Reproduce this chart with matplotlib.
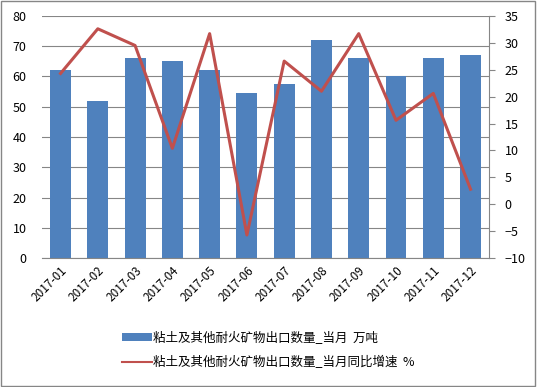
import matplotlib
matplotlib.use('Agg')
import matplotlib.pyplot as plt
from matplotlib.patches import Rectangle
from matplotlib.lines import Line2D

plt.rcParams['font.family'] = ['Noto Sans CJK SC', 'DejaVu Sans']

months = ['2017-01', '2017-02', '2017-03', '2017-04', '2017-05', '2017-06',
          '2017-07', '2017-08', '2017-09', '2017-10', '2017-11', '2017-12']
volume = [62, 52, 66, 65, 62, 54.5, 57.5, 72, 66, 60, 66, 67]
growth = [24.3, 32.6, 29.5, 10.4, 31.7, -5.7, 26.6, 21.0, 31.7, 15.6, 20.6, 2.8]

fig = plt.figure(figsize=(5.37, 3.87), dpi=100)
ax = fig.add_axes([0.078, 0.333, 0.833, 0.626])

x = list(range(len(months)))
bars = ax.bar(x, volume, width=0.56, color='#4F81BD', zorder=2,
              label='粘土及其他耐火矿物出口数量_当月  万吨')
ax.set_ylim(0, 80)
ax.set_yticks(range(0, 81, 10))
ax.set_xlim(-0.5, len(months) - 0.5)
ax.set_xticks(x)
ax.set_xticklabels(months, rotation=45, ha='right', rotation_mode='anchor', fontsize=8.5)
ax.grid(axis='y', color='#868686', linewidth=0.8, zorder=0)
for s in ['top', 'left', 'right']:
    ax.spines[s].set_visible(False)
ax.spines['bottom'].set_color('#868686')
ax.tick_params(axis='y', length=0, labelsize=9, pad=11)
ax.tick_params(axis='x', length=0, pad=4)

ax2 = ax.twinx()
line, = ax2.plot(x, growth, color='#C0504D', linewidth=2.2, zorder=3,
                 label='粘土及其他耐火矿物出口数量_当月同比增速  %')
ax2.set_ylim(-10, 35)
ax2.set_yticks(range(-10, 36, 5))
for s in ['top', 'left', 'bottom']:
    ax2.spines[s].set_visible(False)
ax2.spines['right'].set_color('#868686')
ax2.tick_params(axis='y', direction='out', length=4, color='#868686', labelsize=9, pad=7)

line_handle = Line2D([], [], color='#C0504D', linewidth=1.5)
fig.legend([bars, line_handle], [bars.get_label(), line.get_label()],
           loc='upper left', bbox_to_anchor=(0.215, 0.16), frameon=False,
           fontsize=9, handlelength=2.4, handletextpad=0.1, labelspacing=0.95,
           borderpad=0)

fig.patches.append(Rectangle((0.002, 0.003), 0.995, 0.994, transform=fig.transFigure,
                             fill=False, edgecolor='#868686', linewidth=1))

fig.savefig('out.png', dpi=100)
